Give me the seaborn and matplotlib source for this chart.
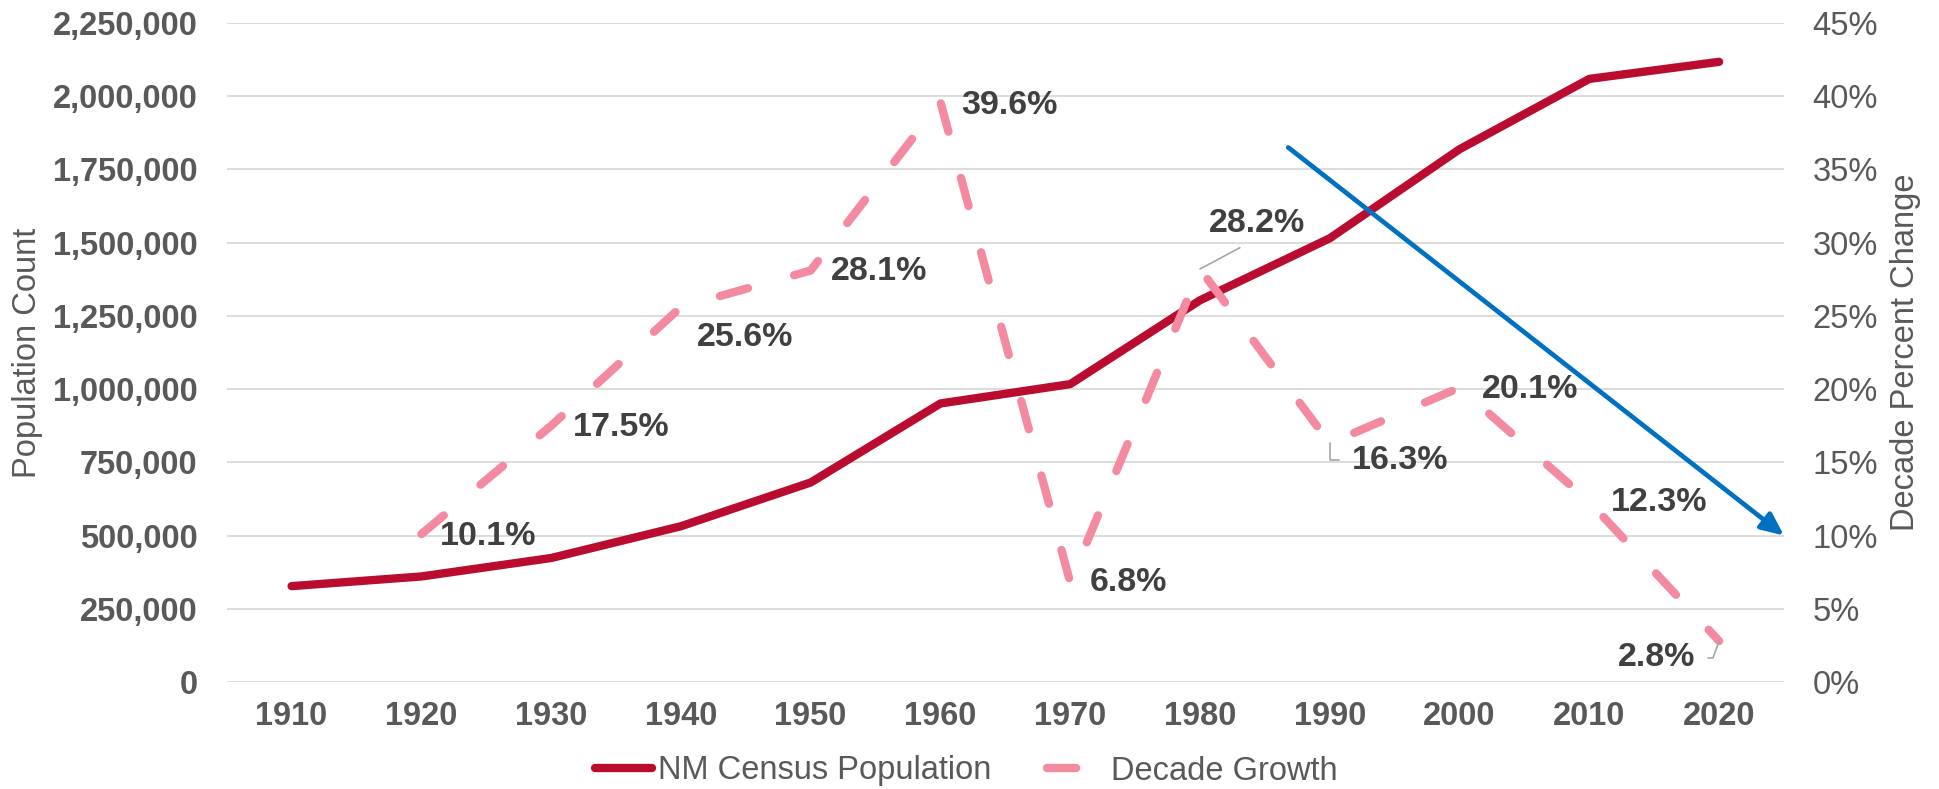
import numpy as np
import pandas as pd
import matplotlib
matplotlib.use("Agg")
import matplotlib.pyplot as plt
from matplotlib.ticker import FuncFormatter, PercentFormatter, MultipleLocator
import seaborn as sns

# datos
anios = [1910, 1920, 1930, 1940, 1950, 1960, 1970, 1980, 1990, 2000, 2010, 2020]
poblacion = [327301, 360350, 423317, 531818, 681187, 951023, 1017055,
             1303303, 1515069, 1819046, 2059179, 2117522]
anios_crec = [1920, 1930, 1940, 1950, 1960, 1970, 1980, 1990, 2000, 2010, 2020]
crecimiento = [10.1, 17.5, 25.6, 28.1, 39.6, 6.8, 28.2, 16.3, 20.1, 12.3, 2.8]

ROJO = "#BA0C2F"
ROSA = "#F48A9F"
AZUL = "#0070C0"
GRIS = "#595959"
GRIS_OSC = "#404040"

sns.set_style("white")
plt.rcParams["font.family"] = ["Liberation Sans", "DejaVu Sans"]

df_pob = pd.DataFrame({"pos": np.arange(len(anios)), "pob": poblacion})
df_crec = pd.DataFrame({"pos": [anios.index(a) for a in anios_crec], "crec": crecimiento})

fig = plt.figure(figsize=(19.4, 7.89), dpi=100)
ax = fig.add_axes([226.7 / 1940, 1 - 682 / 789, (1784 - 226.7) / 1940, (682 - 23) / 789])
ax2 = ax.twinx()

sns.lineplot(data=df_pob, x="pos", y="pob", ax=ax, color=ROJO, lw=6,
             solid_capstyle="round", solid_joinstyle="round",
             label="NM Census Population")
sns.lineplot(data=df_crec, x="pos", y="crec", ax=ax2, color=ROSA, lw=6,
             linestyle=(0, (3.5, 5.75)), dash_capstyle="round",
             dash_joinstyle="round", label="Decade Growth")

# ejes
ax.set_xlim(-0.5, len(anios) - 0.5)
ax.set_ylim(0, 2250000)
ax2.set_ylim(0, 45)
ax.yaxis.set_major_locator(MultipleLocator(250000))
ax2.yaxis.set_major_locator(MultipleLocator(5))
ax.yaxis.set_major_formatter(FuncFormatter(lambda v, p: f"{v:,.0f}"))
ax2.yaxis.set_major_formatter(PercentFormatter(decimals=0))
ax.set_xticks(np.arange(len(anios)))
ax.set_xticklabels([str(a) for a in anios])

ax.grid(axis="y", color="#D9D9D9", lw=1.3)
ax.grid(axis="x", visible=False)
ax2.grid(False)
for a in (ax, ax2):
    for s in a.spines.values():
        s.set_visible(False)
    a.set_xlabel("")

ax.tick_params(axis="y", length=0, pad=21, labelsize=23.5, labelcolor=GRIS)
ax.tick_params(axis="x", length=0, pad=14, labelsize=23.5, labelcolor=GRIS)
ax2.tick_params(axis="y", length=0, pad=20.5, labelsize=23.5, labelcolor=GRIS)
for t in ax.get_yticklabels() + ax.get_xticklabels():
    t.set_fontweight("bold")

ax.set_ylabel("Population Count", fontsize=23.5, color=GRIS, va="center")
ax.yaxis.set_label_coords(-0.1276, 0.5)
ax2.set_ylabel("Decade Percent Change", fontsize=23.5, color=GRIS, va="center")
ax2.yaxis.set_label_coords(1.0782, 0.5)

# etiquetas de datos: desplazamiento en px (derecha, abajo), alineacion
desplaz = {
    1920: (19, 2, "left"), 1930: (22, 2, "left"), 1940: (16, 30, "left"),
    1950: (20.5, 1, "left"), 1960: (21, 3, "left"), 1970: (20, 0, "left"),
    1980: (57, -46, "center"), 1990: (22, 17, "left"), 2000: (22, 2, "left"),
    2010: (22, 1, "left"), 2020: (-24, 17, "right"),
}
guias = {
    1980: dict(arrowstyle="-", color="#A6A6A6", lw=1.2, relpos=(0.5, 0),
               shrinkA=9, shrinkB=0),
    1990: dict(arrowstyle="-", color="#A6A6A6", lw=1.2, relpos=(0, 0.5),
               shrinkA=7, shrinkB=0, connectionstyle="angle,angleA=180,angleB=90,rad=0"),
    2020: dict(arrowstyle="-", color="#A6A6A6", lw=1.2, relpos=(1, 0.5),
               shrinkA=7, shrinkB=0, connectionstyle="angle,angleA=0,angleB=70,rad=0"),
}
for a, g in zip(anios_crec, crecimiento):
    dx, dy, ha = desplaz[a]
    ax2.annotate(f"{g:.1f}%", xy=(anios.index(a), g), xytext=(dx * 0.72, -dy * 0.72),
                 textcoords="offset points", ha=ha, va="center",
                 fontsize=24.5, fontweight="bold", color=GRIS_OSC,
                 arrowprops=guias.get(a), zorder=5)

# flecha de tendencia
ax2.annotate("", xy=(len(anios) - 0.5, 10), xytext=(7.68, 36.5),
             arrowprops=dict(arrowstyle="-|>,head_length=0.4,head_width=0.18",
                             color=AZUL, lw=3.4, mutation_scale=34,
                             shrinkA=0, shrinkB=0),
             annotation_clip=False, zorder=6)

# leyenda
h1, l1 = ax.get_legend_handles_labels()
h2, l2 = ax2.get_legend_handles_labels()
ax.get_legend().remove()
ax2.get_legend().remove()
fig.legend(h1 + h2, l1 + l2, loc="center", bbox_to_anchor=(0.498, 1 - 771 / 789),
           ncol=2, frameon=False, fontsize=23.5, labelcolor=GRIS,
           handlelength=1.75, handletextpad=0.2, columnspacing=1.7)

fig.savefig("out.png", dpi=100)
